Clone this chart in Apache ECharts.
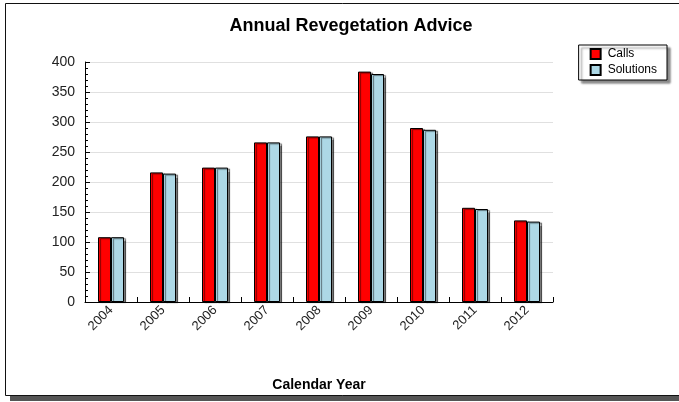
<!DOCTYPE html>
<html><head><meta charset="utf-8">
<script src="https://cdn.jsdelivr.net/npm/echarts@6/dist/echarts.min.js"></script>
<style>html,body{margin:0;padding:0;background:#fff;}#c{width:679px;height:402px;}</style>
</head><body><div id="c"></div>
<script>
var categories = ['2004','2005','2006','2007','2008','2009','2010','2011','2012'];
var calls = [108, 216, 224, 266, 276, 384, 290, 157, 136];
var solutions = [108, 214, 224, 266, 276, 380, 287, 155, 134];
var yTicks = [0, 50, 100, 150, 200, 250, 300, 350, 400];

var chart = echarts.init(document.getElementById('c'), null, {renderer: 'canvas'});
var font = 'Liberation Sans, Arial, sans-serif';
chart.setOption({
  animation: false,
  backgroundColor: '#fff',
  graphic: [{
    type: 'rect', z: -11, silent: true,
    shape: {x: 10, y: 8, width: 700, height: 393},
    style: {fill: '#555', stroke: null}
  }, {
    type: 'rect', z: -10, silent: true,
    shape: {x: 5.5, y: 3.5, width: 700, height: 392},
    style: {fill: '#fff', stroke: '#111', lineWidth: 1}
  }],
  title: {
    text: 'Annual Revegetation Advice', left: 346, top: 12, textAlign: 'center',
    textStyle: {fontFamily: font, fontSize: 18, fontWeight: 'bold', color: '#000'}
  },
  legend: {
    right: 12, top: 45, orient: 'vertical', itemWidth: 10, itemHeight: 10, itemGap: 4,
    padding: [3, 10, 4, 11],
    backgroundColor: '#fff', borderColor: '#000', borderWidth: 1,
    shadowColor: 'rgba(0,0,0,0.45)', shadowOffsetX: 3, shadowOffsetY: 3, shadowBlur: 2,
    icon: 'rect',
    textStyle: {fontFamily: font, fontSize: 12, color: '#000', padding: [0,0,0,2]},
    data: ['Calls', 'Solutions']
  },
  grid: {left: 85, right: 126, top: 62, bottom: 100, containLabel: false},
  xAxis: {
    type: 'category', data: categories,
    name: 'Calendar Year', nameLocation: 'middle', nameGap: 76,
    nameTextStyle: {fontFamily: font, fontSize: 14, fontWeight: 'bold', color: '#000'},
    axisLine: {lineStyle: {color: '#000', width: 1}},
    axisTick: {show: true, inside: true, length: 5, alignWithLabel: false, lineStyle: {color: '#000'}},
    axisLabel: {rotate: 45, fontFamily: font, fontSize: 13, color: '#222', margin: 6, interval: 0},
    splitLine: {show: false}
  },
  yAxis: {
    type: 'value', min: 0, max: 400, interval: 50,
    axisLine: {show: true, lineStyle: {color: '#000', width: 1}},
    axisTick: {show: true, inside: true, length: 5, lineStyle: {color: '#000'}},
    minorTick: {show: true, splitNumber: 5, length: 3, lineStyle: {color: '#000'}},
    axisLabel: {fontFamily: font, fontSize: 14, color: '#222', margin: 10,
      formatter: function(v){ return yTicks.indexOf(v) >= 0 ? String(v) : ''; }},
    splitLine: {show: true, lineStyle: {color: '#e0e0e0', width: 1}}
  },
  series: [{
    name: 'Calls', type: 'bar', data: calls, barWidth: 13, barGap: '0%',
    itemStyle: {color: '#ff0000', borderColor: '#000', borderWidth: 1,
      shadowColor: 'rgba(0,0,0,0.5)', shadowOffsetX: 2, shadowOffsetY: 1, shadowBlur: 1}
  }, {
    name: 'Solutions', type: 'bar', data: solutions, barWidth: 13, barGap: '0%',
    itemStyle: {color: '#add8e6', borderColor: '#000', borderWidth: 1,
      shadowColor: 'rgba(0,0,0,0.5)', shadowOffsetX: 2, shadowOffsetY: 1, shadowBlur: 1}
  }]
});
</script></body></html>
